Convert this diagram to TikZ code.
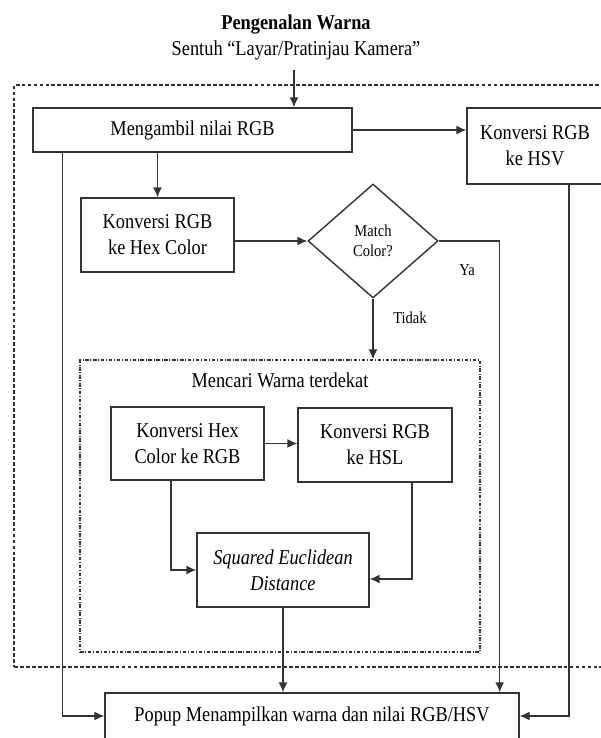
\documentclass[tikz,border=0pt]{standalone}
\usepackage{fontspec}
\setmainfont{Liberation Serif}[FakeStretch=0.87]
\usetikzlibrary{shapes.geometric,arrows.meta}

\begin{document}
\begin{tikzpicture}[x=0.02cm, y=-0.02cm,
    box/.style={draw=black!80, line width=0.8pt, align=center, inner sep=2pt, font=\fontsize{12}{14.7}\selectfont},
    cond/.style={draw=black!80, line width=0.8pt, diamond, align=center, inner sep=0pt, font=\fontsize{9.5}{11.3}\selectfont, minimum width=2.6cm, minimum height=2.28cm},
    frame/.style={draw=black!80, line width=0.7pt},
    arr/.style={draw=black!80, line width=0.8pt, -{Latex[length=2mm,width=1.8mm]}},
    lbl/.style={font=\fontsize{9.5}{11.3}\selectfont}]
    \clip (0,0) rectangle (601,738);

    % Judul
    \node[font=\fontsize{12}{14.7}\selectfont\bfseries] (judul) at (296,25) {Pengenalan Warna};
    \node[font=\fontsize{12}{14.7}\selectfont] (sentuh) at (296,50) {Sentuh “Layar/Pratinjau Kamera”};
    \coordinate (mulai) at (294,70);

    % Bingkai luar dan dalam
    \node[frame, dash pattern=on 2.2pt off 1.2pt, minimum width=11.92cm, minimum height=11.64cm] (luar) at (312,376) {};
    \node[frame, dash pattern=on 2pt off 1pt on 0.5pt off 1pt, minimum width=8cm, minimum height=5.84cm] (dekat) at (280,506) {};
    \node[font=\fontsize{12}{14.7}\selectfont] (cari) at (280,380) {Mencari Warna terdekat};

    % Kotak proses
    \node[box, minimum width=6.38cm, minimum height=0.88cm] (ambil) at (192.5,130) {Mengambil nilai RGB};
    \node[box, minimum width=2.72cm, minimum height=1.52cm] (hsv) at (535,146) {Konversi RGB\\ke HSV};
    \node[box, minimum width=3.06cm, minimum height=1.48cm] (hex) at (157.5,235) {Konversi RGB\\ke Hex Color};
    \node[cond] (cocok) at (373,241) {Match\\Color?};
    \node[box, minimum width=3.06cm, minimum height=1.46cm] (hexrgb) at (187.5,443.5) {Konversi Hex\\Color ke RGB};
    \node[box, minimum width=3.08cm, minimum height=1.48cm] (hsl) at (375,445) {Konversi RGB\\ke HSL};
    \node[box, minimum width=3.44cm, minimum height=1.48cm, font=\fontsize{12}{14.7}\selectfont\itshape] (jarak) at (283,570) {Squared Euclidean\\Distance};
    \node[box, minimum width=8.28cm, minimum height=0.92cm] (popup) at (312,716) {Popup Menampilkan warna dan nilai RGB/HSV};

    % Panah
    \draw[arr] (mulai) -- (mulai |- ambil.north);
    \draw[arr] (ambil.east) -- (ambil.east -| hsv.west);
    \draw[arr] ([xshift=0.6cm]ambil.south west) |- (popup.west);
    \draw[arr] (hex.north |- ambil.south) -- (hex.north);
    \draw[arr] (hex.east |- cocok.west) -- (cocok.west);
    \draw[arr] (cocok.east) -| ([xshift=-0.4cm]popup.north east);
    \draw[arr] (cocok.south) -- (cocok.south |- dekat.north);
    \draw[arr] (hexrgb.east) -- (hexrgb.east -| hsl.west);
    \draw[arr] ([xshift=-0.33cm]hexrgb.south) |- (jarak.west);
    \draw[arr] ([xshift=0.74cm]hsl.south) |- ([yshift=-0.18cm]jarak.east);
    \draw[arr] (jarak.south) -- (jarak.south |- popup.north);
    \draw[arr] ([xshift=0.68cm]hsv.south) |- (popup.east);

    % Label
    \node[lbl] (ya) at (467,270) {Ya};
    \node[lbl] (tidak) at (410,318) {Tidak};
\end{tikzpicture}
\end{document}
